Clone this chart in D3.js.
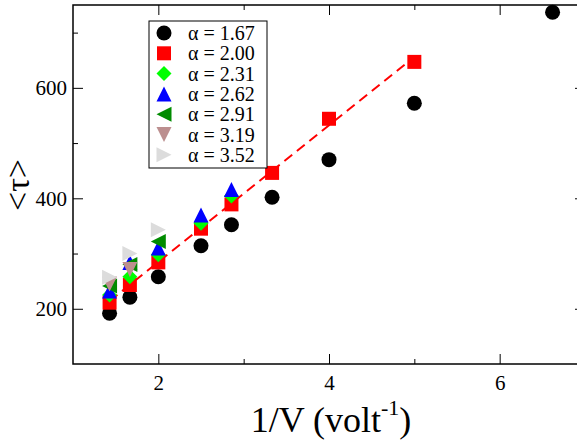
<!DOCTYPE html>
<html>
<head>
<meta charset="utf-8">
<script src="https://cdn.jsdelivr.net/npm/d3@7"></script>
<style>
  html, body { margin: 0; padding: 0; background: #fff; }
  svg { display: block; }
  text { font-family: "Liberation Serif", "Times New Roman", "DejaVu Serif", serif; fill: #000; }
</style>
</head>
<body>
<svg id="chart" width="577" height="441"></svg>
<script>
// 1/V values (volt^-1) at which the mean time was measured
const invV = [1.4286, 1.6667, 2.0, 2.5, 2.857, 3.333, 4.0, 5.0, 6.62];

// mean <tau> for each alpha (series are shorter where fewer voltages were measured)
const tauA167 = [192, 221, 258, 314, 352, 402, 470, 572, 737];
const tauA200 = [211, 243, 284, 345, 389, 446, 544, 647];
const tauA231 = [225, 258, 298, 355, 404];
const tauA262 = [232, 284, 310, 370, 416];
const tauA291 = [241, 280, 322];
const tauA319 = [245, 271];
const tauA352 = [257, 300, 343];

const alphaLabels = ["1.67", "2.00", "2.31", "2.62", "2.91", "3.19", "3.52"];
const seriesColors = ["#000000", "#ff0000", "#00ff00", "#0000ff", "#008b00", "#bc8f8f", "#dcdcdc"];
const seriesShapes = ["circle", "square", "diamond", "triUp", "triLeft", "triDown", "triRight"];

// linear fit through the alpha = 2.00 data
const fitX = [1.4286, 5.0];
const fitY = [214, 656];

// axis ticks
const xMajor = [2, 4, 6];
const xMinor = [3, 5];
const yMajor = [200, 400, 600];
const yMinor = [300, 500, 700];

const seriesValues = [tauA167, tauA200, tauA231, tauA262, tauA291, tauA319, tauA352];

const serif = '"Liberation Serif", "Times New Roman", "DejaVu Serif", serif';
const svg = d3.select("#chart");
const W = 577, H = 441;
const m = { left: 73, top: 5, right: 585, bottom: 364 };

svg.append("rect").attr("width", W).attr("height", H).attr("fill", "#fff");

const x = d3.scaleLinear().domain([1, 7]).range([m.left, m.right]);
const y = d3.scaleLinear().domain([100, 750]).range([m.bottom, m.top]);

// symbol path generators (half-size s)
function shapePath(kind, s) {
  switch (kind) {
    case "circle":
      return `M${-s},0A${s},${s} 0 1,0 ${s},0A${s},${s} 0 1,0 ${-s},0Z`;
    case "square":
      return `M${-s},${-s}H${s}V${s}H${-s}Z`;
    case "diamond":
      return `M0,${-s}L${s},0L0,${s}L${-s},0Z`;
    case "triUp":
      return `M0,${-s}L${s},${s}L${-s},${s}Z`;
    case "triDown":
      return `M0,${s}L${s},${-s}L${-s},${-s}Z`;
    case "triLeft":
      return `M${-s},0L${s},${-s}L${s},${s}Z`;
    case "triRight":
      return `M${s},0L${-s},${-s}L${-s},${s}Z`;
  }
}
const shapeSize = { circle: 7.5, square: 7, diamond: 7.5, triUp: 7.5, triDown: 7.5, triLeft: 7.5, triRight: 7.5 };

const plot = svg.append("g");

seriesValues.forEach((vals, i) => {
  const pts = vals.map((v, j) => ({ x: invV[j], y: v }));
  if (i === 1) {
    // dashed fit line sits under the alpha = 2.00 markers
    plot.append("path")
      .datum(fitX.map((fx, k) => ({ x: fx, y: fitY[k] })))
      .attr("d", d3.line().x(d => x(d.x)).y(d => y(d.y)))
      .attr("fill", "none")
      .attr("stroke", "#ff0000")
      .attr("stroke-width", 2)
      .attr("stroke-dasharray", "10,6");
  }
  plot.append("g").selectAll("path")
    .data(pts)
    .join("path")
    .attr("transform", d => `translate(${x(d.x)},${y(d.y)})`)
    .attr("d", shapePath(seriesShapes[i], shapeSize[seriesShapes[i]]))
    .attr("fill", seriesColors[i]);
});

// axes: ticks point inward on all four sides
const axisFont = 21;
function styleAxis(g) {
  g.attr("font-family", serif);
  g.select(".domain").remove();
  g.selectAll(".tick line").attr("stroke", "#000").attr("stroke-width", 1);
  g.selectAll("text").attr("font-size", axisFont)
    .style("font-family", serif).attr("fill", "#000");
}

svg.append("g").attr("transform", `translate(0,${m.bottom})`)
  .call(d3.axisBottom(x).tickValues(xMajor).tickFormat(d3.format("d")).tickSize(-10).tickPadding(11))
  .call(styleAxis);
svg.append("g").attr("transform", `translate(0,${m.bottom})`)
  .call(d3.axisBottom(x).tickValues(xMinor).tickFormat("").tickSize(-5))
  .call(styleAxis);
svg.append("g").attr("transform", `translate(0,${m.top})`)
  .call(d3.axisTop(x).tickValues(xMajor).tickFormat("").tickSize(-10))
  .call(styleAxis);
svg.append("g").attr("transform", `translate(0,${m.top})`)
  .call(d3.axisTop(x).tickValues(xMinor).tickFormat("").tickSize(-5))
  .call(styleAxis);

svg.append("g").attr("transform", `translate(${m.left},0)`)
  .call(d3.axisLeft(y).tickValues(yMajor).tickFormat(d3.format("d")).tickSize(-10).tickPadding(6))
  .call(styleAxis);
svg.append("g").attr("transform", `translate(${m.left},0)`)
  .call(d3.axisLeft(y).tickValues(yMinor).tickFormat("").tickSize(-5))
  .call(styleAxis);
svg.append("g").attr("transform", `translate(${m.right},0)`)
  .call(d3.axisRight(y).tickValues(yMajor).tickFormat("").tickSize(-10))
  .call(styleAxis);
svg.append("g").attr("transform", `translate(${m.right},0)`)
  .call(d3.axisRight(y).tickValues(yMinor).tickFormat("").tickSize(-5))
  .call(styleAxis);

// frame
svg.append("rect")
  .attr("x", m.left).attr("y", m.top)
  .attr("width", m.right - m.left).attr("height", m.bottom - m.top)
  .attr("fill", "none").attr("stroke", "#000").attr("stroke-width", 1.5);

// axis titles
const xt = svg.append("text")
  .attr("x", 331).attr("y", 432)
  .attr("text-anchor", "middle")
  .style("font-family", serif)
  .attr("font-size", 36);
xt.append("tspan").text("1/V (volt");
xt.append("tspan").attr("font-size", 22).attr("dy", -17).text("-1");
xt.append("tspan").attr("dy", 17).text(")");

svg.append("text")
  .attr("transform", "translate(29,185) rotate(-90)")
  .attr("text-anchor", "middle")
  .style("font-family", serif)
  .attr("font-size", 34)
  .text("<τ>");

// legend
const lg = svg.append("g");
lg.append("rect")
  .attr("x", 149).attr("y", 21).attr("width", 118).attr("height", 147)
  .attr("fill", "#fff").attr("stroke", "#000").attr("stroke-width", 1);
alphaLabels.forEach((a, i) => {
  const cy = 33 + i * 20.3;
  lg.append("path")
    .attr("transform", `translate(164,${cy})`)
    .attr("d", shapePath(seriesShapes[i], shapeSize[seriesShapes[i]]))
    .attr("fill", seriesColors[i]);
  lg.append("text")
    .attr("x", 188).attr("y", cy + 7)
    .style("font-family", serif)
    .attr("font-size", 20)
    .text(`α = ${a}`);
});
</script>
</body>
</html>
